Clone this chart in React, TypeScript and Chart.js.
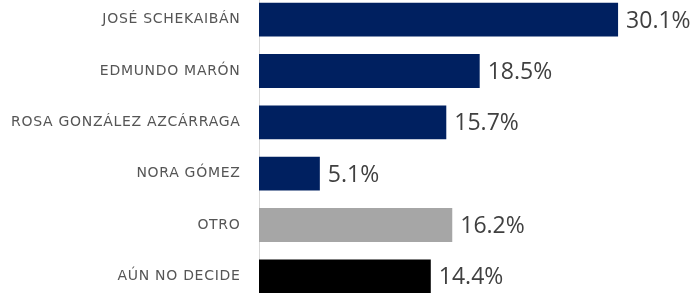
import React, { useEffect, useRef } from "react";
import { Chart, registerables } from "chart.js";

Chart.register(...registerables);

const categories = [
  "JOSÉ SCHEKAIBÁN",
  "EDMUNDO MARÓN",
  "ROSA GONZÁLEZ AZCÁRRAGA",
  "NORA GÓMEZ",
  "OTRO",
  "AÚN NO DECIDE",
];
const values = [30.1, 18.5, 15.7, 5.1, 16.2, 14.4];
const barColors = ["#002060", "#002060", "#002060", "#002060", "#A6A6A6", "#000000"];

const spacing = {
  id: "spacing",
  beforeDraw(chart: any) {
    (chart.ctx as any).letterSpacing = "0.7px";
  },
};

const valueLabels = {
  id: "valueLabels",
  afterDatasetsDraw(chart: any) {
    const ctx = chart.ctx;
    const meta = chart.getDatasetMeta(0);
    ctx.save();
    (ctx as any).letterSpacing = "0px";
    ctx.font = "23px 'Open Sans'";
    ctx.fillStyle = "#404040";
    ctx.textAlign = "left";
    ctx.textBaseline = "middle";
    meta.data.forEach((el: any, i: number) => {
      ctx.fillText(values[i].toFixed(1) + "%", el.x + 8, el.y + 1.5);
    });
    ctx.restore();
  },
};

export default function App() {
  const ref = useRef<HTMLCanvasElement>(null);
  useEffect(() => {
    if (!ref.current) return;
    const chart = new Chart(ref.current, {
      type: "bar",
      data: {
        labels: categories,
        datasets: [
          {
            data: values,
            backgroundColor: barColors,
            categoryPercentage: 1,
            barPercentage: 0.66,
          },
        ],
      },
      options: {
        indexAxis: "y",
        responsive: false,
        animation: false,
        layout: { padding: 0 },
        plugins: { legend: { display: false }, tooltip: { enabled: false } },
        scales: {
          x: { display: false, min: 0, max: 36.8 },
          y: {
            afterFit(scale: any) {
              scale.width = 259;
              scale.paddingTop = 0;
              scale.paddingBottom = 0;
            },
            grid: { display: false, drawTicks: false },
            border: { display: true, color: "#d9d9d9", width: 1 },
            ticks: {
              padding: 18.5,
              color: "#555555",
              font: { family: "DejaVu Sans", size: 14 },
            },
          },
        },
      },
      plugins: [spacing, valueLabels],
    });
    return () => chart.destroy();
  }, []);
  return (
    <div style={{ position: "fixed", left: 0, top: -6, width: 698, height: 308, background: "#fff" }}>
      <canvas ref={ref} width={698} height={308} />
    </div>
  );
}
